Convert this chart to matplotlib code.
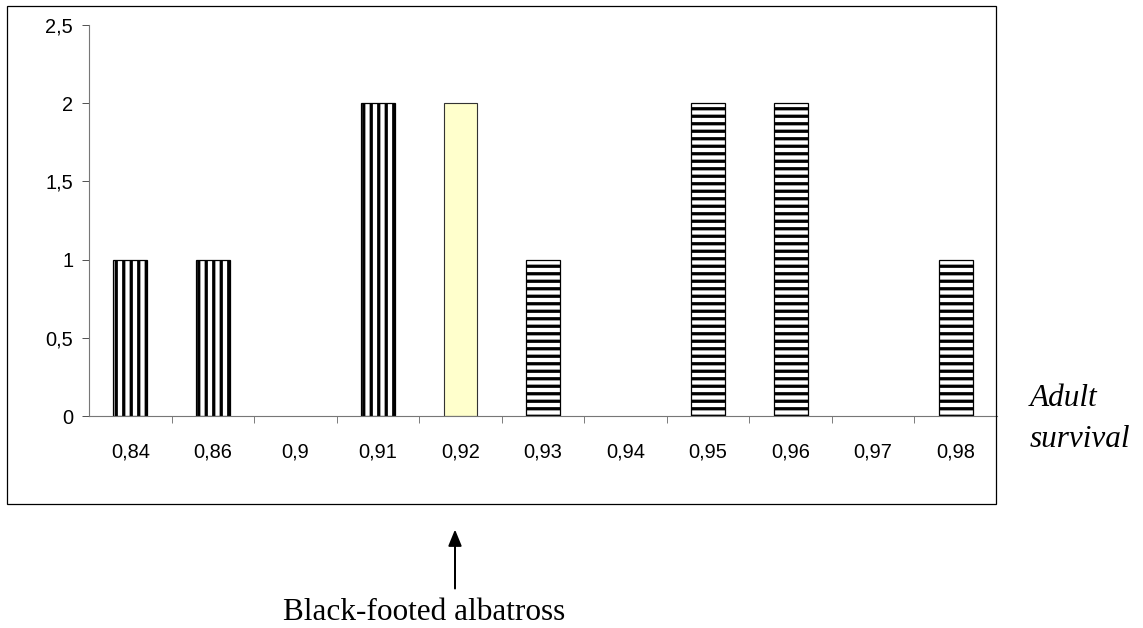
import matplotlib
matplotlib.use("Agg")
import matplotlib.pyplot as plt
from matplotlib.patches import Rectangle

# data
categories = ["0,84", "0,86", "0,9", "0,91", "0,92", "0,93", "0,94", "0,95", "0,96", "0,97", "0,98"]
counts = [1, 1, 0, 2, 2, 1, 0, 2, 2, 0, 1]
# which pattern each bar gets: v = vertical stripes, y = highlighted, h = horizontal stripes
kinds = ["v", "v", "v", "v", "y", "h", "h", "h", "h", "h", "h"]
yticks = [0, 0.5, 1, 1.5, 2, 2.5]
yticklabels = ["0", "0,5", "1", "1,5", "2", "2,5"]

W, H = 1143, 628
DPI = 90  # hatch tile is one inch, so dpi 90 gives ~7.5px stripe spacing
plt.rcParams["font.family"] = ["Liberation Sans", "DejaVu Sans"]
plt.rcParams["hatch.linewidth"] = 2.6
plt.rcParams["hatch.color"] = "black"

fig = plt.figure(figsize=(W / DPI, H / DPI), dpi=DPI)

# plot area in pixels: left 89, right 997, top 25, bottom 416
ax = fig.add_axes([89 / W, 1 - 416 / H, (997 - 89) / W, (416 - 25) / H])

x = list(range(len(categories)))
for xi, c, k in zip(x, counts, kinds):
    if c == 0:
        continue
    if k == "y":
        ax.bar(xi, c, width=0.41, color="#ffffcc", edgecolor="#333333", linewidth=0.9)
    else:
        ax.bar(xi, c, width=0.41, color="white", edgecolor="black", linewidth=1.0,
               hatch="||" if k == "v" else "--")

ax.set_xlim(-0.5, len(categories) - 0.5)
ax.set_ylim(0, 2.5)
ax.set_yticks(yticks)
ax.set_yticklabels(yticklabels, fontsize=16)
ax.set_xticks(x)
ax.set_xticklabels(categories, fontsize=16)
ax.set_xticks([i + 0.5 for i in x[:-1]], minor=True)
ax.tick_params(axis="x", which="major", length=0, pad=21)
ax.tick_params(axis="x", which="minor", length=5.6, direction="out", color="#555555")
ax.tick_params(axis="y", length=5.6, direction="out", color="#555555", pad=7)

for s in ["top", "right"]:
    ax.spines[s].set_visible(False)
for s in ["left", "bottom"]:
    ax.spines[s].set_color("#777777")
    ax.spines[s].set_linewidth(0.9)

# outer chart frame
fig.patches.append(Rectangle((7 / W, 1 - 504 / H), (996 - 7) / W, (504 - 6) / H,
                             transform=fig.transFigure, fill=False,
                             edgecolor="black", linewidth=1.0))

fig.text(1030 / W, 1 - 406 / H, "Adult", fontsize=25, style="italic",
         family="Liberation Serif", ha="left", va="baseline")
fig.text(1030 / W, 1 - 447 / H, "survival", fontsize=25, style="italic",
         family="Liberation Serif", ha="left", va="baseline")

fig.text(283 / W, 1 - 620 / H, "Black-footed albatross", fontsize=25,
         family="Liberation Serif", ha="left", va="baseline")
ax.annotate("", xy=(455 / W, 1 - 527 / H), xytext=(455 / W, 1 - 591 / H),
            xycoords="figure fraction", textcoords="figure fraction",
            arrowprops=dict(arrowstyle="-|>,head_length=1.1,head_width=0.45",
                            color="black", lw=1.6))

fig.savefig("out.png", dpi=DPI)
